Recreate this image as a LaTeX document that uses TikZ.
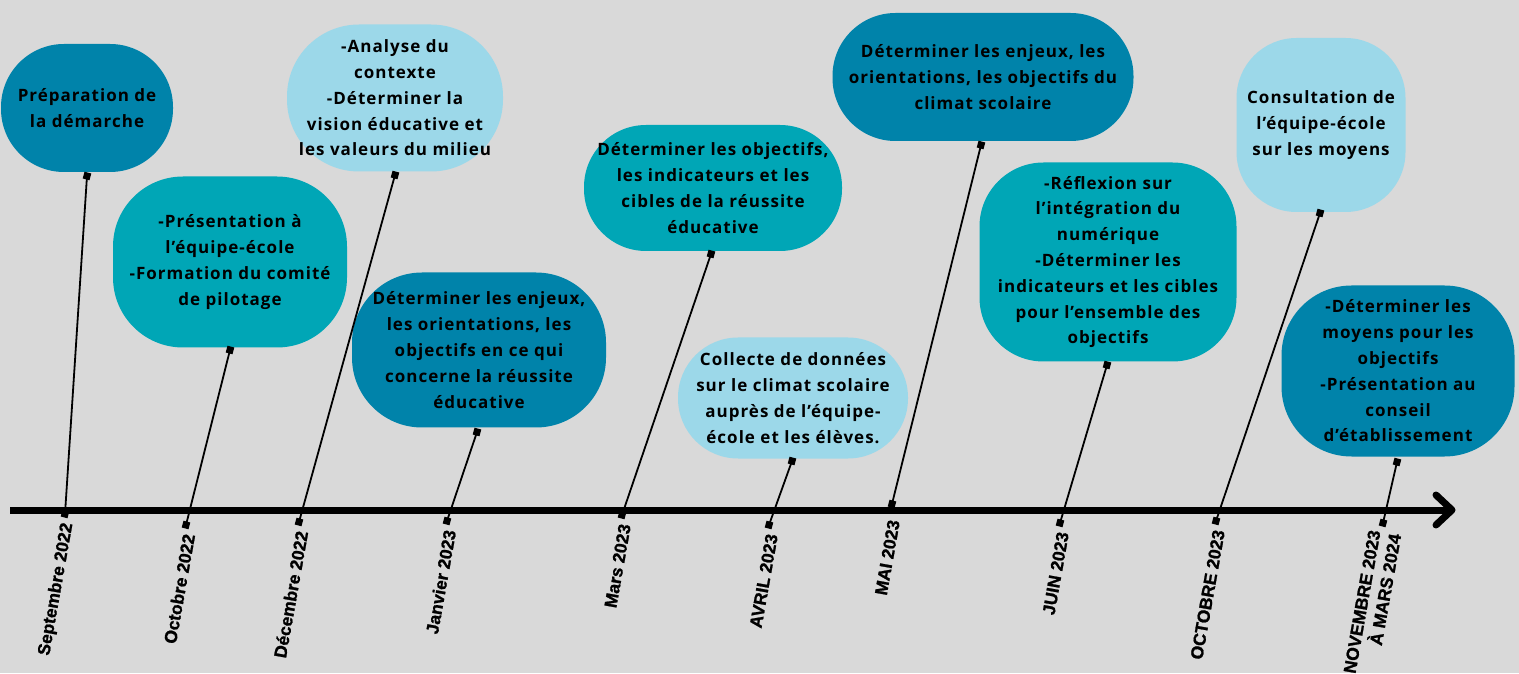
\documentclass[tikz,border=0pt]{standalone}
\usepackage{fontspec}
\newfontfamily\bullefont{Open Sans}[LetterSpace=6]
\newfontfamily\datefont{Liberation Sans}[FakeBold=1.2]
\definecolor{fond}{HTML}{D9D9D9}
\definecolor{fonce}{HTML}{0083AA}
\definecolor{moyen}{HTML}{00A6B6}
\definecolor{clair}{HTML}{9CD8E9}
\tikzset{
  bulle/.style={rounded corners=60pt, inner sep=0pt, align=center, text=black,
    font=\bullefont\bfseries\fontsize{17}{25.8}\selectfont},
  taille/.style 2 args={minimum width=#1pt, minimum height=#2pt},
  puce/.style={fill=black, minimum size=7pt, inner sep=0pt, rotate=-15},
  fil/.style={line width=1.8pt},
  mois/.style={rotate=80, anchor=east, inner sep=0pt, align=right,
    font=\datefont\bfseries\fontsize{17.5}{21}\selectfont},
  axe/.style={line width=7pt}
}
\begin{document}
\begin{tikzpicture}[x=1pt,y=1pt]
    \fill[fond] (0,0) rectangle (1519,673);
    \useasboundingbox (0,0) rectangle (1519,673);

    \node[bulle, fill=fonce, taille={172}{128}, rounded corners=63pt] (b1) at (87,565) {Préparation de\\la démarche};
    \node[bulle, fill=moyen, taille={234}{171}, rounded corners=70pt] (b2) at (230,411) {-Présentation à\\l’équipe-école\\-Formation du comité\\de pilotage};
    \node[bulle, fill=clair, taille={216}{147}, rounded corners=72pt] (b3) at (395,575) {-Analyse du\\contexte\\-Déterminer la\\vision éducative et\\les valeurs du milieu};
    \node[bulle, fill=fonce, taille={254}{155}, rounded corners=70pt] (b4) at (479,323) {Déterminer les enjeux,\\les orientations, les\\objectifs en ce qui\\concerne la réussite\\éducative};
    \node[bulle, fill=moyen, taille={258}{126}, rounded corners=62pt] (b5) at (713,485) {Déterminer les objectifs,\\les indicateurs et les\\cibles de la réussite\\éducative};
    \node[bulle, fill=clair, taille={230}{121}] (b6) at (793,275) {Collecte de données\\sur le climat scolaire\\auprès de l’équipe-\\école et les élèves.};
    \node[bulle, fill=fonce, taille={301}{128}, rounded corners=63pt] (b7) at (983,596) {Déterminer les enjeux, les\\orientations, les objectifs du\\climat scolaire};
    \node[bulle, fill=moyen, taille={257}{199}, rounded corners=64pt] (b8) at (1108,411) {-Réflexion sur\\l’intégration du\\numérique\\-Déterminer les\\indicateurs et les cibles\\pour l’ensemble des\\objectifs};
    \node[bulle, fill=clair, taille={169}{174}] (b9) at (1321,548) {Consultation de\\l’équipe-école\\sur les moyens};
    \node[bulle, fill=fonce, taille={233}{171}, rounded corners=70pt] (b10) at (1398,302) {-Déterminer les\\moyens pour les\\objectifs\\-Présentation au\\conseil\\d’établissement};

    \coordinate (debut) at (10,163);
    \coordinate (fin) at (1452,163);
    \coordinate (barbeH) at (1436,178);
    \coordinate (barbeB) at (1436,148);
    \draw[axe] (debut) -- (fin);
    \draw[axe, line cap=round, line join=round] (barbeH) -- (fin) -- (barbeB);

    \node[puce] (t1) at (87,497) {};
    \node[puce] (t2) at (230,323) {};
    \node[puce] (t3) at (395,498) {};
    \node[puce] (t4) at (477,241) {};
    \node[puce] (t5) at (711,419) {};
    \node[puce] (t6) at (792,212) {};
    \node[puce] (t7) at (981,528) {};
    \node[puce] (t8) at (1107,308) {};
    \node[puce] (t9) at (1320,460) {};
    \node[puce] (t10) at (1397,211) {};

    \node[puce] (a1) at (65,159) {};
    \node[puce] (a2) at (186,148) {};
    \node[puce] (a3) at (299,151) {};
    \node[puce] (a4) at (447,152) {};
    \node[puce] (a5) at (622,158) {};
    \node[puce] (a6) at (769,148) {};
    \node[puce] (a7) at (892,169) {};
    \node[puce] (a8) at (1060,150) {};
    \node[puce] (a9) at (1216,152) {};
    \node[puce] (a10) at (1383,150) {};

    \foreach \i in {1,...,10}
      \draw[fil] (a\i.center) -- (t\i.center);

    \node[mois] (d1) at (68,150) {Septembre 2022};
    \node[mois] (d2) at (189,139) {Octobre 2022};
    \node[mois] (d3) at (302,142) {Décembre 2022};
    \node[mois] (d4) at (450,143) {Janvier 2023};
    \node[mois] (d5) at (625,149) {Mars 2023};
    \node[mois] (d6) at (772,139) {AVRIL 2023};
    \node[mois] (d7) at (894,153) {MAI 2023};
    \node[mois] (d8) at (1063,141) {JUIN 2023};
    \node[mois] (d9) at (1219,143) {OCTOBRE 2023};
    \node[mois] (d10) at (1385,141) {NOVEMBRE 2023\\À MARS 2024};
\end{tikzpicture}
\end{document}
